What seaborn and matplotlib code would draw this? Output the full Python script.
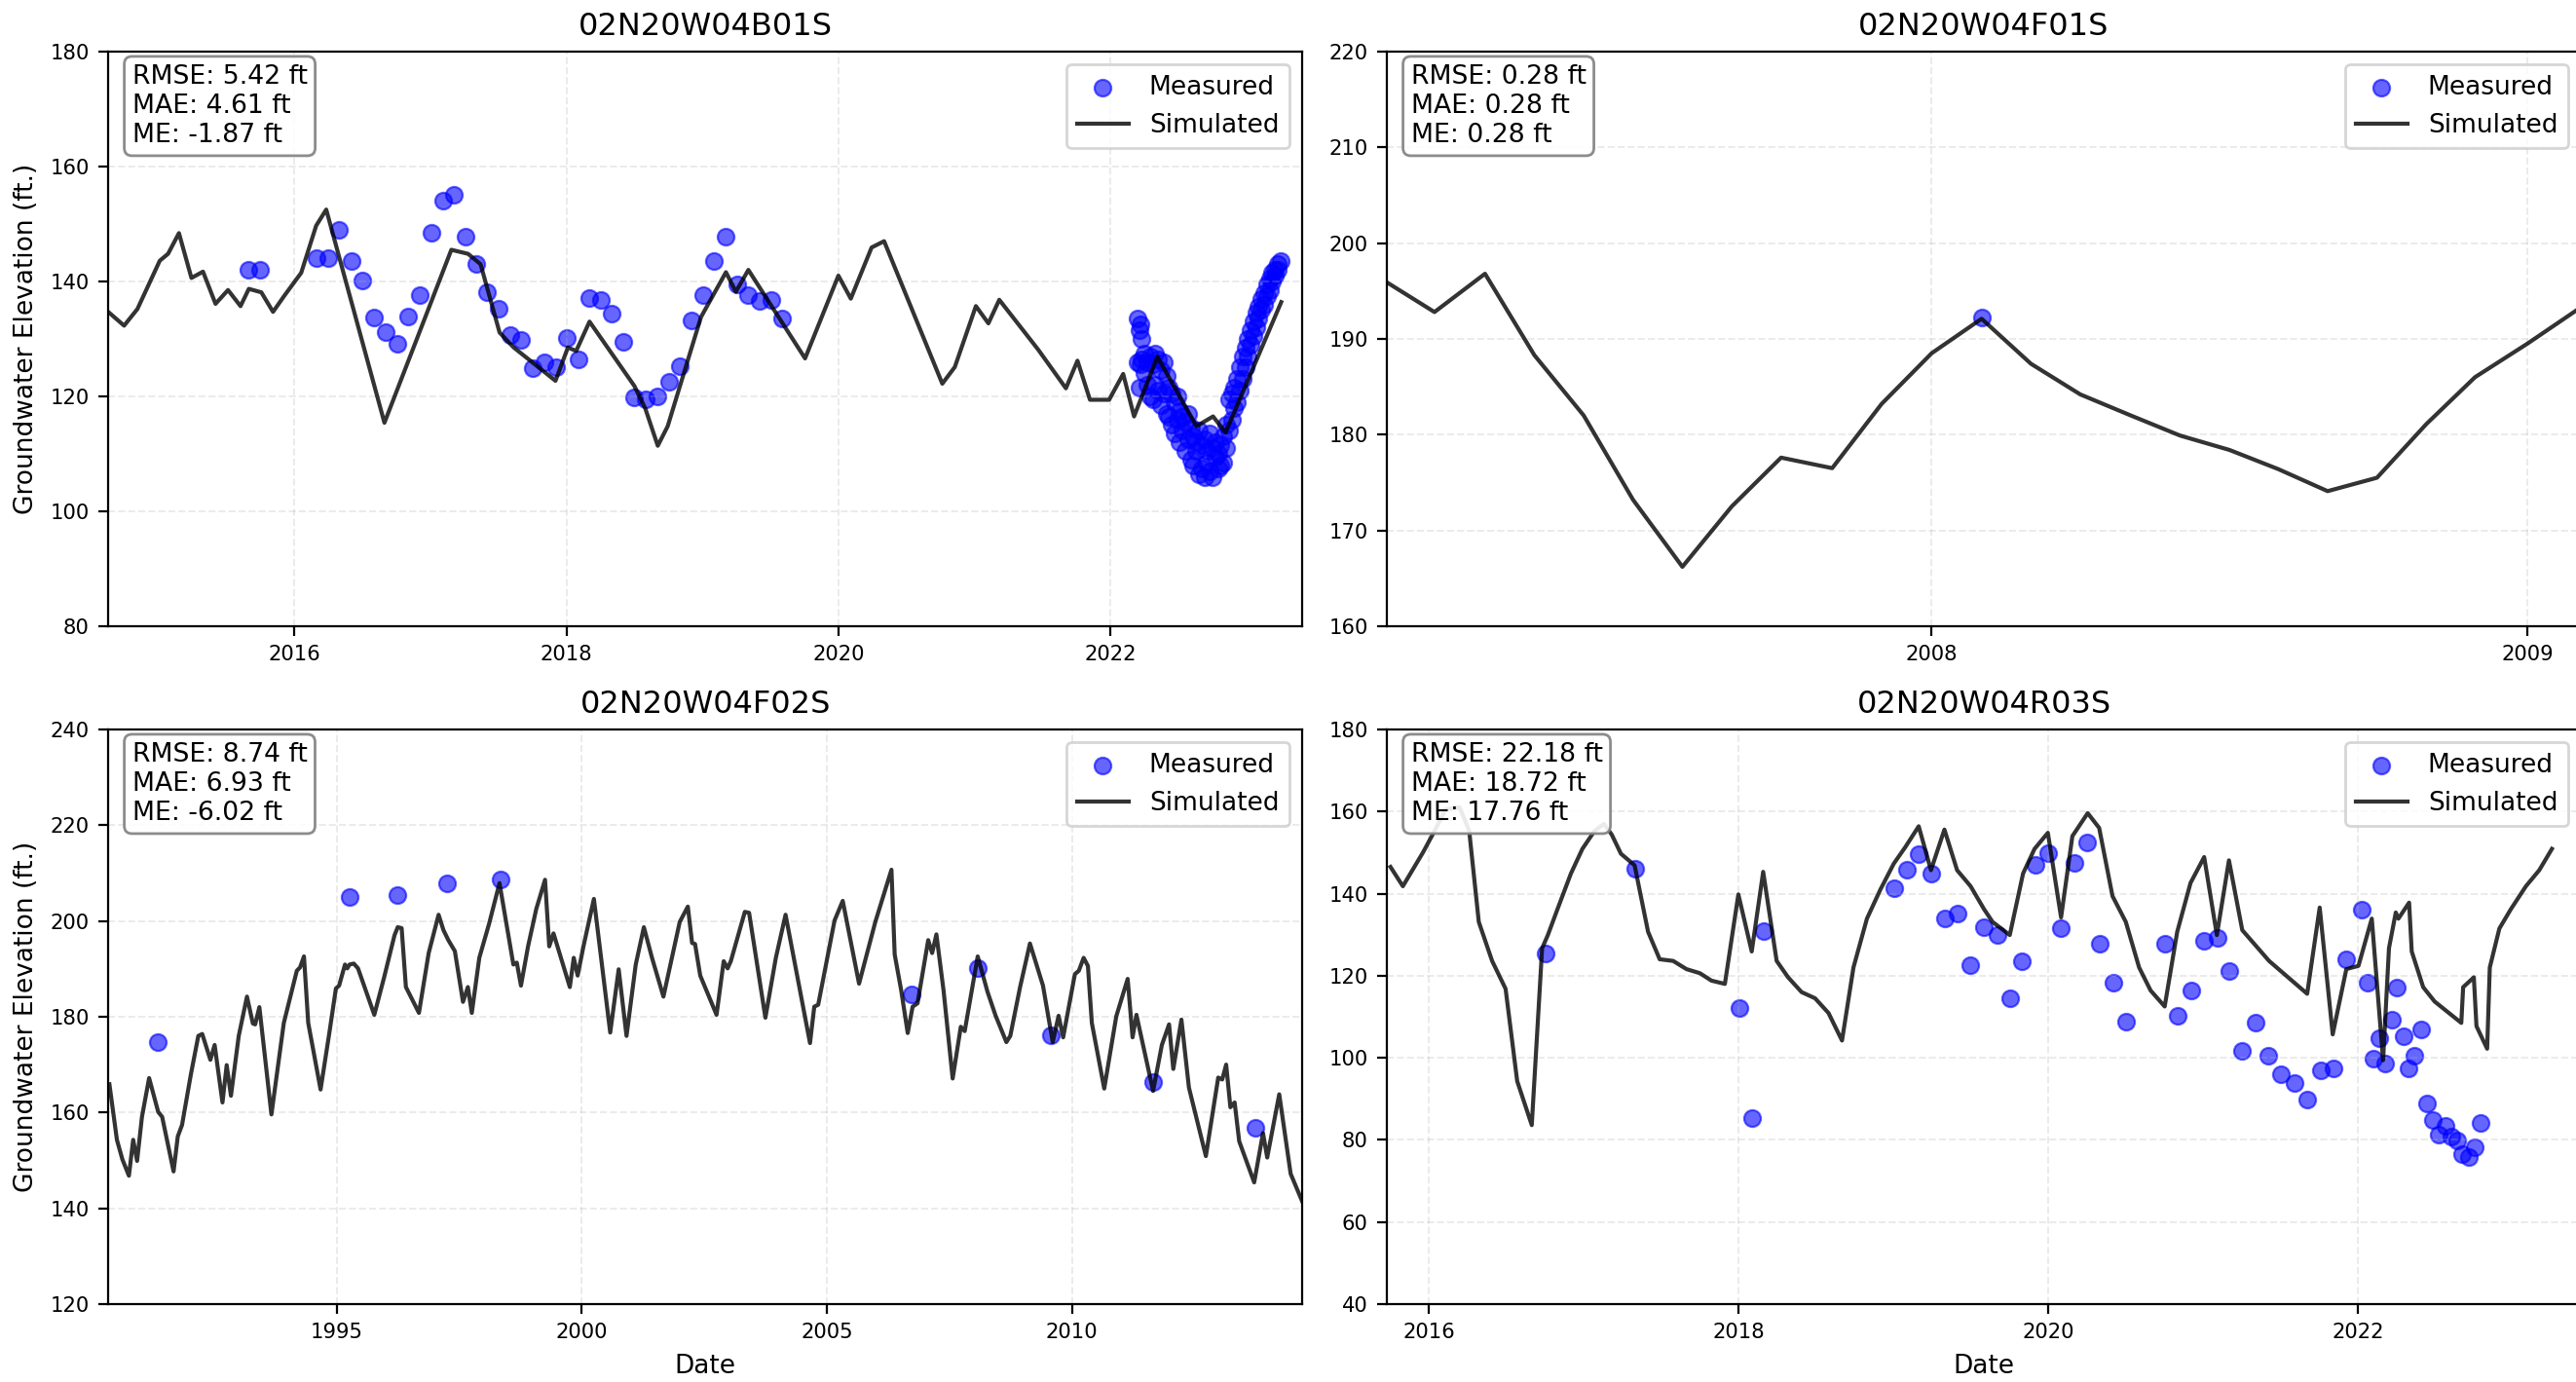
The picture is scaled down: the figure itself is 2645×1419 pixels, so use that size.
import numpy as np
import pandas as pd
import matplotlib.pyplot as plt
import matplotlib.dates as mdates
from matplotlib.ticker import MultipleLocator
import seaborn as sns

# ---- 02N20W04B01S ----
b01_sim_t = [2014.628, 2014.745, 2014.843, 2015.008, 2015.069, 2015.149, 2015.241, 2015.326,
             2015.418, 2015.510, 2015.602, 2015.663, 2015.755, 2015.841, 2015.927, 2016.049,
             2016.159, 2016.233, 2016.661, 2017.151, 2017.274, 2017.366, 2017.506, 2017.610,
             2017.917, 2018.009, 2018.070, 2018.168, 2018.498, 2018.578, 2018.670, 2018.743,
             2018.988, 2019.172, 2019.245, 2019.337, 2019.754, 2019.999, 2020.091, 2020.244,
             2020.336, 2020.764, 2020.856, 2021.009, 2021.101, 2021.181, 2021.468, 2021.671,
             2021.756, 2021.848, 2021.989, 2022.093, 2022.173, 2022.344, 2022.632, 2022.754,
             2022.846, 2023.256]
b01_sim_h = [134.7, 132.3, 135.2, 143.6, 144.8, 148.4, 140.6, 141.7, 136.1, 138.5, 135.7, 138.7,
             138.1, 134.7, 137.6, 141.5, 149.7, 152.5, 115.4, 145.5, 144.8, 143.0, 131.1, 128.5,
             122.7, 128.5, 127.9, 133.0, 121.8, 117.9, 111.4, 114.8, 133.8, 141.6, 138.2, 142.0,
             126.6, 141.0, 137.0, 145.9, 147.0, 122.2, 125.1, 135.7, 132.7, 136.8, 128.1, 121.4,
             126.2, 119.4, 119.4, 123.9, 116.5, 126.9, 114.8, 116.5, 113.7, 136.4]
b01_obs_t = [2015.663, 2015.743, 2016.159, 2016.245, 2016.325, 2016.416, 2016.496, 2016.582,
             2016.667, 2016.753, 2016.833, 2016.919, 2017.004, 2017.090, 2017.170, 2017.255,
             2017.335, 2017.415, 2017.500, 2017.586, 2017.666, 2017.751, 2017.837, 2017.923,
             2018.002, 2018.088, 2018.168, 2018.253, 2018.333, 2018.419, 2018.498, 2018.584,
             2018.670, 2018.750, 2018.835, 2018.921, 2019.001, 2019.086, 2019.166, 2019.252,
             2019.337, 2019.417, 2019.503, 2019.582,
             2022.20, 2022.20, 2022.21, 2022.21, 2022.22, 2022.22, 2022.23, 2022.23, 2022.25,
             2022.25, 2022.27, 2022.27, 2022.29, 2022.29, 2022.31, 2022.31, 2022.33, 2022.33,
             2022.35, 2022.35, 2022.37, 2022.37, 2022.39, 2022.39, 2022.41, 2022.41, 2022.43,
             2022.43, 2022.45, 2022.45, 2022.47, 2022.47, 2022.49, 2022.49, 2022.51, 2022.51,
             2022.53, 2022.53, 2022.55, 2022.55, 2022.57, 2022.57, 2022.59, 2022.59, 2022.61,
             2022.61, 2022.63, 2022.63, 2022.65, 2022.65, 2022.67, 2022.67, 2022.69, 2022.69,
             2022.71, 2022.71, 2022.73, 2022.73, 2022.75, 2022.75, 2022.77, 2022.77, 2022.79,
             2022.79, 2022.81, 2022.81, 2022.83, 2022.83, 2022.85, 2022.85, 2022.87, 2022.87,
             2022.89, 2022.89, 2022.91, 2022.91, 2022.93, 2022.93, 2022.95, 2022.95, 2022.97,
             2022.97, 2022.99, 2022.99, 2023.01, 2023.01, 2023.03, 2023.03, 2023.05, 2023.05,
             2023.07, 2023.07, 2023.09, 2023.09, 2023.11, 2023.11, 2023.13, 2023.13, 2023.15,
             2023.15, 2023.17, 2023.17, 2023.19, 2023.19, 2023.21, 2023.21, 2023.23, 2023.23,
             2023.25]
b01_obs_h = [142.0, 142.0, 144.0, 144.0, 148.9, 143.6, 140.2, 133.8, 131.1, 129.2, 133.9, 137.7,
             148.4, 154.1, 155.0, 147.8, 143.1, 138.1, 135.2, 130.6, 129.8, 124.9, 126.0, 125.1,
             130.2, 126.4, 137.1, 136.7, 134.4, 129.5, 119.8, 119.4, 120.0, 122.6, 125.3, 133.2,
             137.7, 143.6, 147.8, 139.5, 137.7, 136.6, 136.7, 133.6,
             126.0, 133.5, 131.5, 121.5, 132.5, 125.5, 130.0, 126.5, 127.5, 124.0, 126.0, 122.0,
             127.0, 120.0, 125.5, 119.5, 127.5, 122.0, 126.5, 121.0, 124.5, 118.5, 126.0, 120.5,
             123.5, 117.0, 121.5, 116.5, 120.5, 115.0, 119.0, 113.5, 120.0, 116.0, 117.5, 112.0,
             116.5, 114.0, 115.5, 110.5, 117.0, 112.5, 114.5, 109.0, 113.0, 108.0, 112.0, 110.5,
             114.0, 106.5, 111.5, 107.5, 112.5, 106.0, 110.5, 108.5, 113.5, 107.0, 111.0, 106.0,
             109.5, 112.0, 110.0, 107.5, 111.5, 108.0, 113.0, 108.5, 115.0, 111.0, 119.5, 114.0,
             120.5, 116.0, 118.0, 121.5, 123.0, 119.0, 125.0, 121.0, 127.0, 123.0, 128.5, 125.0,
             130.0, 127.0, 131.5, 129.0, 133.0, 130.5, 134.5, 132.0, 135.5, 133.5, 137.0, 135.0,
             138.0, 136.0, 139.5, 137.5, 140.5, 138.5, 141.5, 140.0, 142.0, 141.0, 143.0, 142.0,
             143.5]

# ---- 02N20W04F01S ----
f01_sim_t = [2007.083, 2007.163, 2007.248, 2007.331, 2007.414, 2007.497, 2007.580, 2007.663,
             2007.746, 2007.832, 2007.915, 2008.000, 2008.084, 2008.167, 2008.250, 2008.335,
             2008.418, 2008.501, 2008.583, 2008.666, 2008.749, 2008.832, 2008.914, 2009.000,
             2009.083]
f01_sim_h = [195.9, 192.8, 196.8, 188.3, 182.0, 173.2, 166.2, 172.5, 177.6, 176.5, 183.2, 188.5,
             192.1, 187.4, 184.2, 182.0, 179.9, 178.4, 176.4, 174.1, 175.5, 181.1, 186.0, 189.5,
             193.0]
f01_obs_t = [2008.084]
f01_obs_h = [192.2]

# ---- 02N20W04F02S ----
f02_sim_t = [1990.355, 1990.508, 1990.620, 1990.753, 1990.840, 1990.920, 1991.020, 1991.166,
             1991.352, 1991.432, 1991.665, 1991.751, 1991.838, 1992.018, 1992.171, 1992.251,
             1992.417, 1992.504, 1992.664, 1992.750, 1992.837, 1992.996, 1993.162, 1993.282,
             1993.329, 1993.415, 1993.661, 1993.914, 1994.180, 1994.246, 1994.326, 1994.413,
             1994.665, 1994.845, 1994.978, 1995.044, 1995.164, 1995.210, 1995.257, 1995.344,
             1995.430, 1995.762, 1995.962, 1996.175, 1996.241, 1996.321, 1996.408, 1996.674,
             1996.873, 1997.073, 1997.172, 1997.272, 1997.405, 1997.571, 1997.671, 1997.751,
             1997.904, 1998.104, 1998.317, 1998.600, 1998.670, 1998.755, 1998.900, 1999.068,
             1999.247, 1999.333, 1999.420, 1999.753, 1999.833, 1999.913, 2000.032, 2000.245,
             2000.578, 2000.751, 2000.911, 2001.097, 2001.263, 2001.429, 2001.662, 2001.995,
             2002.161, 2002.248, 2002.308, 2002.414, 2002.747, 2002.893, 2002.973, 2003.039,
             2003.325, 2003.412, 2003.745, 2003.958, 2004.157, 2004.656, 2004.743, 2004.823,
             2005.155, 2005.322, 2005.655, 2005.987, 2006.317, 2006.383, 2006.516, 2006.649,
             2006.749, 2006.849, 2007.068, 2007.148, 2007.235, 2007.381, 2007.567, 2007.733,
             2007.813, 2008.079, 2008.279, 2008.445, 2008.664, 2008.744, 2008.944, 2009.143,
             2009.409, 2009.608, 2009.728, 2009.821, 2010.061, 2010.141, 2010.240, 2010.327,
             2010.407, 2010.660, 2010.906, 2011.139, 2011.239, 2011.318, 2011.658, 2011.837,
             2011.984, 2012.071, 2012.237, 2012.390, 2012.736, 2012.988, 2013.068, 2013.148,
             2013.234, 2013.321, 2013.414, 2013.720, 2013.900, 2013.986, 2014.232, 2014.465,
             2014.731]
f02_sim_h = [165.9, 154.3, 150.2, 146.8, 154.3, 149.9, 159.1, 167.2, 160.1, 159.1, 147.7, 155.0,
             157.4, 167.9, 176.0, 176.4, 171.0, 174.1, 162.1, 169.9, 163.5, 176.0, 184.2, 178.6,
             178.4, 182.0, 159.6, 178.7, 189.6, 190.3, 192.6, 178.7, 164.8, 176.7, 185.9, 186.5,
             190.9, 190.1, 190.9, 191.1, 190.1, 180.4, 188.2, 197.0, 198.7, 198.5, 186.2, 180.8,
             193.3, 201.3, 198.1, 196.0, 193.7, 183.1, 186.2, 180.8, 192.3, 199.4, 207.9, 190.9,
             191.3, 186.5, 194.7, 202.5, 208.6, 194.7, 197.4, 186.2, 192.3, 188.6, 194.7, 204.6,
             176.7, 189.9, 176.0, 190.9, 198.7, 192.3, 184.2, 199.8, 203.0, 195.4, 195.2, 188.6,
             180.4, 191.6, 190.1, 191.6, 201.9, 201.7, 179.8, 192.3, 201.3, 174.5, 182.1, 182.5,
             200.1, 204.2, 186.9, 199.8, 210.7, 193.0, 185.5, 176.6, 182.1, 182.8, 196.0, 193.3,
             197.2, 185.5, 167.1, 177.9, 177.0, 192.6, 185.2, 180.2, 174.7, 176.0, 186.2, 195.3,
             186.5, 174.7, 180.2, 175.7, 188.9, 189.6, 192.3, 190.6, 178.7, 165.0, 180.1, 187.9,
             175.7, 180.4, 164.5, 174.1, 178.4, 169.1, 179.4, 165.2, 150.9, 167.3, 166.9, 170.0,
             161.1, 162.1, 154.0, 145.4, 155.7, 150.6, 163.8, 147.2, 140.7]
f02_obs_t = [1991.333, 1995.257, 1996.241, 1997.238, 1998.336, 2006.736, 2008.079, 2009.575,
             2011.658, 2013.747]
f02_obs_h = [174.8, 205.1, 205.5, 207.9, 208.6, 184.7, 190.1, 176.2, 166.4, 156.9]

# ---- 02N20W04R03S ----
r03_sim_t = [2015.753, 2015.833, 2015.964, 2016.026, 2016.110, 2016.200, 2016.262, 2016.324,
             2016.410, 2016.497, 2016.572, 2016.666, 2016.733, 2016.770, 2016.832, 2016.919,
             2016.993, 2017.068, 2017.130, 2017.180, 2017.240, 2017.328, 2017.415, 2017.490,
             2017.577, 2017.663, 2017.750, 2017.824, 2017.911, 2017.998, 2018.085, 2018.159,
             2018.246, 2018.320, 2018.407, 2018.494, 2018.581, 2018.668, 2018.742, 2018.829,
             2018.916, 2019.003, 2019.077, 2019.164, 2019.243, 2019.330, 2019.412, 2019.499,
             2019.586, 2019.641, 2019.752, 2019.838, 2019.912, 2019.998, 2020.084, 2020.157,
             2020.256, 2020.330, 2020.416, 2020.502, 2020.588, 2020.662, 2020.753, 2020.834,
             2020.920, 2021.006, 2021.088, 2021.166, 2021.252, 2021.425, 2021.511, 2021.671,
             2021.752, 2021.836, 2021.924, 2022.003, 2022.089, 2022.162, 2022.200, 2022.244,
             2022.261, 2022.330, 2022.347, 2022.421, 2022.495, 2022.667, 2022.679, 2022.748,
             2022.765, 2022.834, 2022.851, 2022.913, 2022.987, 2023.085, 2023.171, 2023.253]
r03_sim_h = [146.5, 141.8, 150.1, 154.4, 160.5, 161.0, 155.3, 133.1, 123.6, 116.8, 94.3, 83.6,
             126.7, 129.9, 136.2, 144.9, 150.9, 155.2, 157.0, 154.4, 149.7, 146.9, 130.7, 124.0,
             123.6, 121.6, 120.6, 118.8, 118.0, 139.8, 125.9, 145.3, 123.6, 119.6, 116.0, 114.5,
             110.9, 104.2, 122.0, 133.9, 141.0, 147.3, 151.3, 156.4, 145.7, 155.6, 145.7, 141.8,
             136.2, 133.1, 129.9, 144.9, 150.9, 154.8, 134.2, 154.0, 159.6, 156.0, 139.4, 133.1,
             122.0, 116.4, 112.5, 130.7, 142.6, 148.9, 129.9, 148.1, 131.1, 123.6, 120.8, 115.6,
             136.6, 105.7, 121.6, 122.4, 133.9, 99.4, 126.7, 135.4, 133.9, 137.8, 125.9, 117.2,
             113.7, 108.5, 117.2, 119.6, 107.7, 102.2, 122.0, 131.5, 136.2, 141.8, 145.7, 150.9]
r03_obs_t = [2016.753, 2017.333, 2018.003, 2018.087, 2018.164, 2019.003, 2019.085, 2019.164,
             2019.248, 2019.333, 2019.417, 2019.499, 2019.583, 2019.671, 2019.752, 2019.833,
             2019.917, 2020.003, 2020.084, 2020.168, 2020.251, 2020.335, 2020.421, 2020.502,
             2020.753, 2020.839, 2020.925, 2021.006, 2021.093, 2021.166, 2021.252, 2021.339,
             2021.420, 2021.503, 2021.590, 2021.673, 2021.757, 2021.839, 2021.924, 2022.023,
             2022.060, 2022.101, 2022.138, 2022.175, 2022.220, 2022.249, 2022.293, 2022.328,
             2022.366, 2022.409, 2022.446, 2022.482, 2022.519, 2022.564, 2022.605, 2022.642,
             2022.672, 2022.716, 2022.753, 2022.790]
r03_obs_h = [125.5, 146.1, 112.1, 85.3, 130.8, 141.4, 145.9, 149.5, 144.8, 133.9, 135.2, 122.6,
             131.9, 129.9, 114.5, 123.6, 146.9, 149.8, 131.5, 147.5, 152.5, 127.9, 118.2, 108.7,
             127.9, 110.3, 116.3, 128.5, 129.3, 121.2, 101.6, 108.5, 100.6, 95.9, 93.9, 89.9,
             97.0, 97.4, 124.0, 136.2, 118.4, 99.9, 104.7, 98.6, 109.3, 117.2, 105.2, 97.3,
             100.4, 106.8, 88.9, 84.8, 81.2, 83.3, 80.7, 79.9, 76.5, 75.9, 78.1, 84.1]


def to_dates(years):
    years = np.asarray(years, dtype=float)
    whole = np.floor(years).astype(int)
    base = pd.to_datetime(whole.astype(str), format="%Y")
    return base + pd.to_timedelta((years - whole) * 365.25, unit="D")


panels = [
    dict(title="02N20W04B01S", stats="RMSE: 5.42 ft\nMAE: 4.61 ft\nME: -1.87 ft",
         sim=(b01_sim_t, b01_sim_h), obs=(b01_obs_t, b01_obs_h),
         ylim=(80, 180), ystep=20, xlim=(2014.628, 2023.41), years=2,
         pos=[0.0420, 0.5469, 0.4635, 0.4158], ylabel=True, xlabel=False),
    dict(title="02N20W04F01S", stats="RMSE: 0.28 ft\nMAE: 0.28 ft\nME: 0.28 ft",
         sim=(f01_sim_t, f01_sim_h), obs=(f01_obs_t, f01_obs_h),
         ylim=(160, 220), ystep=10, xlim=(2007.083, 2009.09), years=1,
         pos=[0.5384, 0.5469, 0.4635, 0.4158], ylabel=False, xlabel=False),
    dict(title="02N20W04F02S", stats="RMSE: 8.74 ft\nMAE: 6.93 ft\nME: -6.02 ft",
         sim=(f02_sim_t, f02_sim_h), obs=(f02_obs_t, f02_obs_h),
         ylim=(120, 240), ystep=20, xlim=(1990.33, 2014.70), years=5,
         pos=[0.0420, 0.0564, 0.4635, 0.4158], ylabel=True, xlabel=True),
    dict(title="02N20W04R03S", stats="RMSE: 22.18 ft\nMAE: 18.72 ft\nME: 17.76 ft",
         sim=(r03_sim_t, r03_sim_h), obs=(r03_obs_t, r03_obs_h),
         ylim=(40, 180), ystep=20, xlim=(2015.73, 2023.44), years=2,
         pos=[0.5384, 0.0564, 0.4635, 0.4158], ylabel=False, xlabel=True),
]

fig = plt.figure(figsize=(13.225, 7.095), dpi=200)

for p in panels:
    ax = fig.add_axes(p["pos"])
    obs = pd.DataFrame({"date": to_dates(p["obs"][0]), "elev": p["obs"][1]})
    sim = pd.DataFrame({"date": to_dates(p["sim"][0]), "elev": p["sim"][1]})

    sns.scatterplot(data=obs, x="date", y="elev", ax=ax, color="blue", alpha=0.6,
                    s=38, edgecolor="blue", linewidth=0.8, label="Measured")
    sns.lineplot(data=sim, x="date", y="elev", ax=ax, color="black", alpha=0.8,
                 linewidth=1.5, label="Simulated")

    ax.set_xlim(to_dates([p["xlim"][0]])[0], to_dates([p["xlim"][1]])[0])
    ax.set_ylim(*p["ylim"])
    ax.yaxis.set_major_locator(MultipleLocator(p["ystep"]))
    ax.xaxis.set_major_locator(mdates.YearLocator(p["years"]))
    ax.xaxis.set_major_formatter(mdates.DateFormatter("%Y"))
    ax.tick_params(labelsize=7.6)
    ax.grid(True, linestyle="--", linewidth=0.7, alpha=0.25)

    ax.set_title(p["title"], fontsize=11.5)
    ax.set_xlabel("Date" if p["xlabel"] else "", fontsize=9.5)
    ax.set_ylabel("Groundwater Elevation (ft.)" if p["ylabel"] else "", fontsize=9.5)

    ax.text(0.02, 0.978, p["stats"], transform=ax.transAxes, va="top", ha="left",
            fontsize=9.6, linespacing=1.2,
            bbox=dict(boxstyle="round", facecolor="white", edgecolor="gray", alpha=0.9))

    handles, labels = ax.get_legend_handles_labels()
    order = [labels.index("Measured"), labels.index("Simulated")]
    ax.legend([handles[i] for i in order], [labels[i] for i in order],
              loc="upper right", fontsize=9.5)

fig.savefig("out.png", dpi=200)
